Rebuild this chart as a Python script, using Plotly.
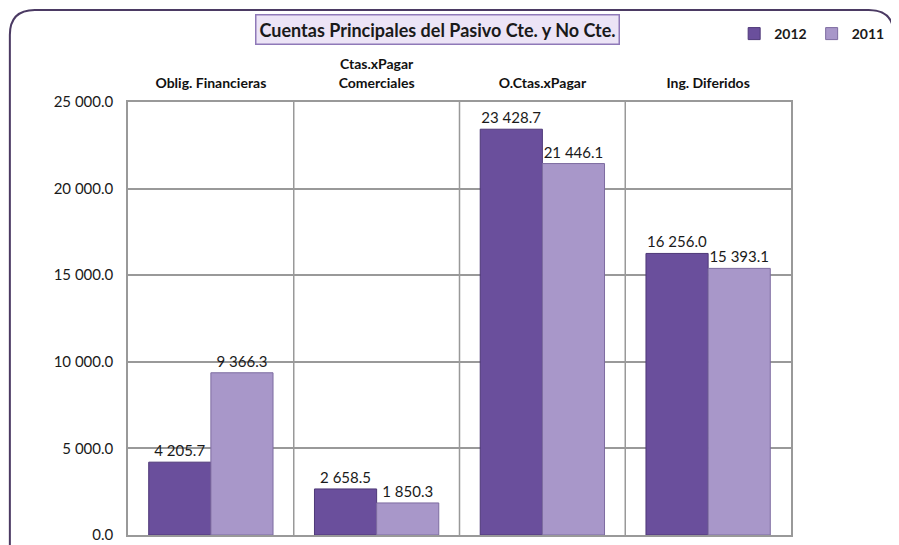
""" Cuentas principales del pasivo, 2012 vs 2011 """

import plotly.graph_objects as go

categories = ["Oblig. Financieras", "Ctas.xPagar<br>Comerciales",
              "O.Ctas.xPagar", "Ing. Diferidos"]
values_2012 = [4205.7, 2658.5, 23428.7, 16256.0]
values_2011 = [9366.3, 1850.3, 21446.1, 15393.1]
y_ticks = [0, 5000, 10000, 15000, 20000, 25000]

FONT = "Lato, 'Noto Sans', sans-serif"
OFF = 8                            # the page body margin shifts the figure
W, H = 899 - OFF, 545 - OFF
# plot area, in page pixels
L, R, T, B = 128, 793, 102, 535


def px_x(px):
    return (px - L) / (R - L)


def px_y(py):
    return (B - py) / (B - T)


def frame_path():
    # rounded frame, open at the bottom (cut off by the picture)
    x0, x1 = px_x(9.5), px_x(896)
    yt, yb = px_y(10), px_y(560)
    rx, ry = 25 / (R - L), 25 / (B - T)
    return (f"M {x0},{yb} L {x0},{yt - ry} Q {x0},{yt} {x0 + rx},{yt} "
            f"L {x1 - rx},{yt} Q {x1},{yt} {x1},{yt - ry} L {x1},{yb}")


def create_figure():
    fig = go.Figure()
    for name, vals, color, edge in [("2012", values_2012, "#6a4f9c", "#4e3878"),
                                    ("2011", values_2011, "#a897c9", "#7d6ca0")]:
        fig.add_trace(go.Bar(
            x=categories, y=vals, name=f"<b>{name}</b>",
            marker=dict(color=color, line=dict(color=edge, width=1)),
            texttemplate="%{y:,.1f}", textposition="outside",
            textfont=dict(size=15, color="#1a1a1a", family=FONT),
            cliponaxis=False,
        ))

    # vertical separators between the categories
    for xb in [0.5, 1.5, 2.5]:
        fig.add_vline(x=xb, line=dict(color="#999999", width=1.5), layer="below")

    fig.add_shape(type="path", path=frame_path(), xref="paper", yref="paper",
                  line=dict(color="#4b3a63", width=2))

    fig.add_annotation(
        text="<b>Cuentas Principales del Pasivo Cte. y No Cte.</b>",
        xref="paper", yref="paper", x=px_x(438.5), y=px_y(29.5),
        xanchor="center", yanchor="middle", showarrow=False,
        font=dict(size=18, color="#1a1a1a", family=FONT),
        bgcolor="#ece4f6", bordercolor="#8f79b8", borderwidth=1.5, borderpad=3,
    )

    fig.update_layout(
        width=W, height=H,
        margin=dict(l=L - OFF, r=W - (R - OFF), t=T - OFF, b=H - (B - OFF)),
        paper_bgcolor="white", plot_bgcolor="white",
        separators=". ",
        bargap=0.25, bargroupgap=0,
        font=dict(family=FONT, color="#1a1a1a"),
        legend=dict(orientation="h", x=px_x(736), y=px_y(34),
                    xanchor="left", yanchor="middle",
                    font=dict(size=14, family=FONT), itemwidth=30,
                    tracegroupgap=0, bgcolor="rgba(0,0,0,0)"),
        xaxis=dict(side="top", showgrid=False, ticks="", automargin=False,
                   ticklabelstandoff=7,
                   tickfont=dict(size=14, family=FONT, color="#111111"),
                   showline=True, linecolor="#999999", linewidth=1.5, mirror=True),
        yaxis=dict(range=[0, 25000], tickvals=y_ticks, tickformat=",.1f",
                   showgrid=True, gridcolor="#999999", gridwidth=1.5,
                   zeroline=False, ticklabelstandoff=10, automargin=False,
                   ticklabeloverflow="allow",
                   tickfont=dict(size=15, family=FONT, color="#1a1a1a"),
                   showline=True, linecolor="#999999", linewidth=1.5, mirror=True),
    )
    # bold category labels
    fig.update_xaxes(ticktext=[f"<b>{c}</b>" for c in categories],
                     tickvals=categories)
    return fig


def main():
    fig = create_figure()
    fig.write_html("out.html")


if __name__ == "__main__":
    main()
